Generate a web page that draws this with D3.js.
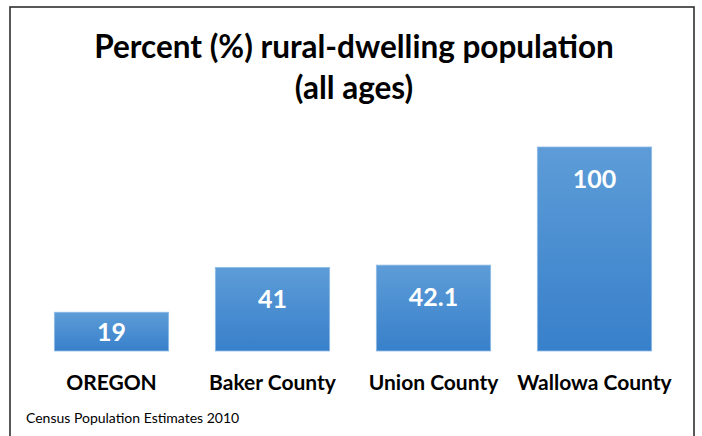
<!DOCTYPE html>
<html>
<head>
<meta charset="utf-8">
<script src="https://cdn.jsdelivr.net/npm/d3@7"></script>
<style>
  body { margin: 0; background: #fff; }
  text { font-family: Lato, "Open Sans", sans-serif; }
</style>
</head>
<body>
<div id="chart"></div>
<script>
// chart data
const categories = ["OREGON", "Baker County", "Union County", "Wallowa County"];
const values = [19, 41, 42.1, 100];
const titleLines = ["Percent (%) rural-dwelling population", "(all ages)"];
const sourceNote = "Census Population Estimates 2010";

const W = 702, H = 436;
const svg = d3.select("#chart")
    .append("svg")
    .attr("width", W)
    .attr("height", H);

// gradient for the bars
const grad = svg.append("defs").append("linearGradient")
    .attr("id", "barGrad")
    .attr("x1", 0).attr("y1", 0).attr("x2", 0).attr("y2", 1);
grad.append("stop").attr("offset", "0%").attr("stop-color", "#5d9cd7");
grad.append("stop").attr("offset", "100%").attr("stop-color", "#3880cb");

// outer frame
svg.append("rect")
    .attr("x", 10).attr("y", 7)
    .attr("width", 684).attr("height", 440)
    .attr("fill", "#fff")
    .attr("stroke", "#222")
    .attr("stroke-width", 1.5);

// title
svg.append("g")
    .selectAll("text")
    .data(titleLines)
    .join("text")
      .attr("x", 354)
      .attr("y", (d, i) => 58 + i * 41)
      .attr("text-anchor", "middle")
      .attr("font-size", 31.5)
      .attr("font-weight", "bold")
      .attr("fill", "#000")
      .text(d => d);

const x = d3.scaleBand()
    .domain(categories)
    .range([31, 675])
    .paddingInner(0.29)
    .paddingOuter(0.145);

const y = d3.scaleLinear()
    .domain([0, 100])
    .range([351, 147]);

const data = categories.map((c, i) => ({cat: c, val: values[i]}));

svg.append("g")
    .selectAll("rect")
    .data(data)
    .join("rect")
      .attr("x", d => x(d.cat))
      .attr("y", d => y(d.val))
      .attr("width", x.bandwidth())
      .attr("height", d => y(0) - y(d.val))
      .attr("fill", "url(#barGrad)")
      .attr("stroke", "#8fbbe6")
      .attr("stroke-width", 0.8);

// value labels inside the bars
svg.append("g")
    .selectAll("text")
    .data(data)
    .join("text")
      .attr("x", d => x(d.cat) + x.bandwidth() / 2)
      .attr("y", d => Math.min(y(d.val) + 32, (y(d.val) + y(0)) / 2) + 9)
      .attr("text-anchor", "middle")
      .attr("font-size", 25)
      .attr("font-weight", "bold")
      .attr("fill", "#fff")
      .text(d => d.val);

// category labels
const xAxis = svg.append("g")
    .attr("transform", `translate(0, ${y(0)})`)
    .call(d3.axisBottom(x).tickSize(0).tickPadding(0));
xAxis.select(".domain").remove();
xAxis.selectAll("text")
    .attr("y", 39)
    .attr("dy", 0)
    .attr("font-size", 21)
    .attr("font-weight", "bold")
    .attr("fill", "#000")
    .style("font-family", "Lato, 'Open Sans', sans-serif");

// source note
svg.append("text")
    .attr("x", 26)
    .attr("y", 423)
    .attr("font-size", 14)
    .attr("fill", "#000")
    .text(sourceNote);
</script>
</body>
</html>
